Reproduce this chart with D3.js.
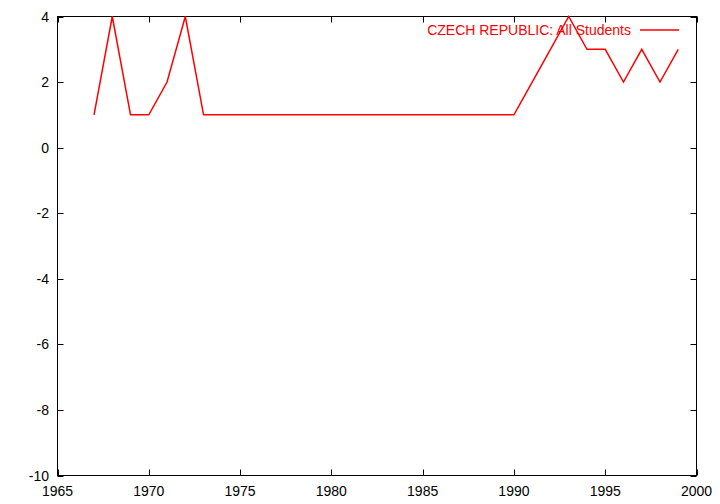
<!DOCTYPE html>
<html><head><meta charset="utf-8">
<script src="https://cdn.jsdelivr.net/npm/d3@7"></script>
<style>body{margin:0;background:#fff}svg{display:block}text{font-family:"Liberation Sans",Arial,sans-serif;font-size:14px}</style>
</head><body>
<svg id="c" width="720" height="504"></svg>
<script>
const years = [1967,1968,1969,1970,1971,1972,1973,1974,1975,1976,1977,1978,1979,1980,1981,1982,1983,1984,1985,1986,1987,1988,1989,1990,1991,1992,1993,1994,1995,1996,1997,1998,1999];
const values = [1,4,1,1,2,4,1,1,1,1,1,1,1,1,1,1,1,1,1,1,1,1,1,1,2,3,4,3,3,2,3,2,3];
const xTicks = [1965,1970,1975,1980,1985,1990,1995,2000];
const yTicks = [-10,-8,-6,-4,-2,0,2,4];
const seriesName = "CZECH REPUBLIC: All Students";

const svg = d3.select("#c");
const L=57.5,R=696.5,T=16.5,B=475.5;
const x = d3.scaleLinear().domain([1965,2000]).range([L,R]);
const y = d3.scaleLinear().domain([-10,4]).range([B,T]);
const tl=6;
const g = svg.append("g");
xTicks.forEach(v=>{
  const px=Math.round(x(v))+0.5;
  g.append("line").attr("x1",px).attr("x2",px).attr("y1",B).attr("y2",B-tl).attr("stroke","#000");
  g.append("line").attr("x1",px).attr("x2",px).attr("y1",T).attr("y2",T+tl).attr("stroke","#000");
  g.append("text").attr("x",x(v)).attr("y",495.5).attr("text-anchor","middle").text(v);
});
yTicks.forEach(v=>{
  const py=Math.round(y(v))+0.5;
  g.append("line").attr("x1",L).attr("x2",L+tl).attr("y1",py).attr("y2",py).attr("stroke","#000");
  g.append("line").attr("x1",R).attr("x2",R-tl).attr("y1",py).attr("y2",py).attr("stroke","#000");
  g.append("text").attr("x",49).attr("y",y(v)+5).attr("text-anchor","end").text(v);
});
g.append("rect").attr("x",L).attr("y",T).attr("width",R-L).attr("height",B-T).attr("fill","none").attr("stroke","#000");
const line = d3.line().x((d,i)=>x(years[i])).y(d=>y(d));
svg.append("path").datum(values).attr("d",line).attr("fill","none").attr("stroke","#ff0000").attr("stroke-width",1.5).attr("stroke-linejoin","miter");
svg.append("text").attr("x",631).attr("y",35).attr("text-anchor","end").attr("fill","#ff0000").text(seriesName);
svg.append("line").attr("x1",640).attr("x2",679).attr("y1",30).attr("y2",30).attr("stroke","#ff0000").attr("stroke-width",1.5);
</script>
</body></html>
